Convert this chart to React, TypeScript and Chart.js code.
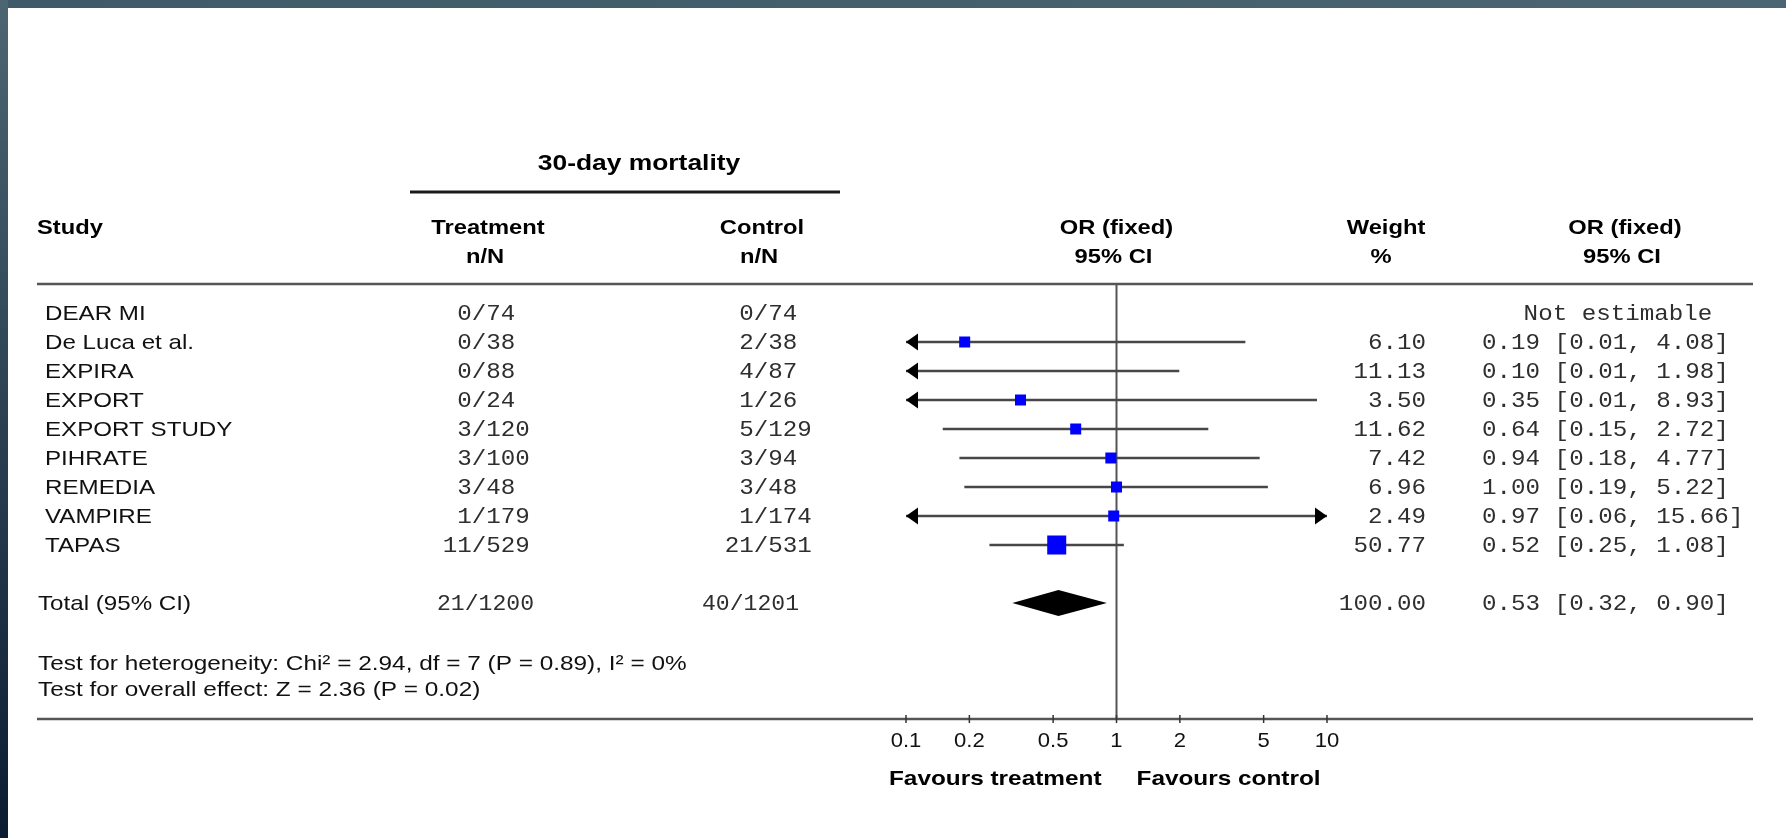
import React, { useEffect, useRef } from "react";
import { Chart, registerables } from "chart.js";

Chart.register(...registerables);

// ---------------- data ----------------
const STUDIES = ["DEAR MI", "De Luca et al.", "EXPIRA", "EXPORT", "EXPORT STUDY", "PIHRATE", "REMEDIA", "VAMPIRE", "TAPAS"];
const TREATMENT = ["0/74", "0/38", "0/88", "0/24", "3/120", "3/100", "3/48", "1/179", "11/529"];
const CONTROL = ["0/74", "2/38", "4/87", "1/26", "5/129", "3/94", "3/48", "1/174", "21/531"];
const WEIGHT: (number | null)[] = [null, 6.10, 11.13, 3.50, 11.62, 7.42, 6.96, 2.49, 50.77];
const OR: (number | null)[] = [null, 0.19, 0.10, 0.35, 0.64, 0.94, 1.00, 0.97, 0.52];
const LOW: (number | null)[] = [null, 0.01, 0.01, 0.01, 0.15, 0.18, 0.19, 0.06, 0.25];
const HIGH: (number | null)[] = [null, 4.08, 1.98, 8.93, 2.72, 4.77, 5.22, 15.66, 1.08];

const TOTAL_LABEL = "Total (95% CI)";
const TOTAL_TREATMENT = "21/1200";
const TOTAL_CONTROL = "40/1201";
const TOTAL_WEIGHT = 100.0;
const TOTAL_OR = 0.53;
const TOTAL_LOW = 0.32;
const TOTAL_HIGH = 0.90;

const X_TICKS = [0.1, 0.2, 0.5, 1, 2, 5, 10];
const NOT_ESTIMABLE = "Not estimable";
const HETEROGENEITY = "Test for heterogeneity: Chi\u00B2 = 2.94, df = 7 (P = 0.89), I\u00B2 = 0%";
const OVERALL = "Test for overall effect: Z = 2.36 (P = 0.02)";
const GROUP_TITLE = "30-day mortality";
const FAVOURS_LEFT = "Favours treatment";
const FAVOURS_RIGHT = "Favours control";

// ---------------- layout ----------------
const W = 1786;
const H = 838;
const X_MIN = 0.1;
const X_MAX = 10;
const TOTAL_ROW = 10;
const HET_ROW = 12.1;
const OVR_ROW = 13.0;
const SANS = '"Liberation Sans", Arial, sans-serif';
const MONO = '"Liberation Mono", "Courier New", monospace';
const MONO_FONT = `22px ${MONO}`;
const MONO_SX = 1.1;
const BOLD = `bold 21px ${SANS}`;
const BOLD_SX = 1.13;
const REG = `21px ${SANS}`;
const REG_SX = 1.15;
const MONO_COLOR = "#2e2e2e";
const ROW_DY = 1.5;

function fmt(v: number) {
  return v.toFixed(2);
}

function txt(ctx: CanvasRenderingContext2D, s: string, x: number, y: number, font: string, align: CanvasTextAlign, sx: number, color = "#111") {
  ctx.save();
  ctx.font = font;
  ctx.fillStyle = color;
  ctx.textAlign = align;
  ctx.textBaseline = "middle";
  ctx.translate(x, y);
  ctx.scale(sx, 1);
  ctx.fillText(s, 0, 0);
  ctx.restore();
}

function slashText(ctx: CanvasRenderingContext2D, s: string, slashX: number, y: number) {
  ctx.save();
  ctx.font = MONO_FONT;
  const cw = ctx.measureText("0").width * MONO_SX;
  ctx.restore();
  const left = slashX - (s.indexOf("/") + 0.5) * cw;
  txt(ctx, s, left, y, MONO_FONT, "left", MONO_SX, MONO_COLOR);
}

function hline(ctx: CanvasRenderingContext2D, x1: number, x2: number, y: number, w: number, color: string) {
  ctx.save();
  ctx.strokeStyle = color;
  ctx.lineWidth = w;
  ctx.beginPath();
  ctx.moveTo(x1, y);
  ctx.lineTo(x2, y);
  ctx.stroke();
  ctx.restore();
}

const forestPlugin = {
  id: "forest",
  beforeDatasetsDraw(chart: any) {
    const { ctx, chartArea } = chart;
    const xs = chart.scales.x;
    const x1 = xs.getPixelForValue(1);
    ctx.save();
    ctx.strokeStyle = "#555";
    ctx.lineWidth = 2;
    ctx.beginPath();
    ctx.moveTo(x1, chartArea.top);
    ctx.lineTo(x1, chartArea.bottom);
    ctx.stroke();
    ctx.restore();
  },
  afterDatasetsDraw(chart: any) {
    const { ctx } = chart;
    const xs = chart.scales.x;
    const ys = chart.scales.y;
    ctx.save();
    ctx.fillStyle = "#000";
    STUDIES.forEach((_, i) => {
      const lo = LOW[i];
      const hi = HIGH[i];
      if (lo == null || hi == null) return;
      const y = ys.getPixelForValue(i);
      if (lo < X_MIN) {
        const tip = xs.getPixelForValue(X_MIN);
        ctx.beginPath();
        ctx.moveTo(tip, y);
        ctx.lineTo(tip + 12, y - 8.5);
        ctx.lineTo(tip + 12, y + 8.5);
        ctx.closePath();
        ctx.fill();
      }
      if (hi > X_MAX) {
        const tip = xs.getPixelForValue(X_MAX);
        ctx.beginPath();
        ctx.moveTo(tip, y);
        ctx.lineTo(tip - 12, y - 8.5);
        ctx.lineTo(tip - 12, y + 8.5);
        ctx.closePath();
        ctx.fill();
      }
    });
    // pooled-estimate diamond
    const yc = ys.getPixelForValue(TOTAL_ROW);
    const xl = xs.getPixelForValue(TOTAL_LOW);
    const xc = xs.getPixelForValue(TOTAL_OR);
    const xr = xs.getPixelForValue(TOTAL_HIGH);
    ctx.beginPath();
    ctx.moveTo(xl, yc);
    ctx.lineTo(xc, yc - 13);
    ctx.lineTo(xr, yc);
    ctx.lineTo(xc, yc + 13);
    ctx.closePath();
    ctx.fill();
    ctx.restore();
  },
  afterDraw(chart: any) {
    const { ctx, chartArea } = chart;
    const xs = chart.scales.x;
    const ys = chart.scales.y;
    const x1 = xs.getPixelForValue(1);

    // group title & underline
    txt(ctx, GROUP_TITLE, 639, 164, `bold 22px ${SANS}`, "center", 1.2, "#000");
    hline(ctx, 410, 840, 192, 3, "#1a1a1a");

    // column headers
    const hy1 = 228;
    const hy2 = 257;
    txt(ctx, "Study", 37, hy1, BOLD, "left", BOLD_SX, "#000");
    txt(ctx, "Treatment", 488, hy1, BOLD, "center", BOLD_SX, "#000");
    txt(ctx, "n/N", 485, hy2, BOLD, "center", BOLD_SX, "#000");
    txt(ctx, "Control", 762, hy1, BOLD, "center", BOLD_SX, "#000");
    txt(ctx, "n/N", 759, hy2, BOLD, "center", BOLD_SX, "#000");
    txt(ctx, "OR (fixed)", x1, hy1, BOLD, "center", BOLD_SX, "#000");
    txt(ctx, "95% CI", x1 - 3, hy2, BOLD, "center", BOLD_SX, "#000");
    txt(ctx, "Weight", 1386, hy1, BOLD, "center", BOLD_SX, "#000");
    txt(ctx, "%", 1381, hy2, BOLD, "center", BOLD_SX, "#000");
    txt(ctx, "OR (fixed)", 1625, hy1, BOLD, "center", BOLD_SX, "#000");
    txt(ctx, "95% CI", 1622, hy2, BOLD, "center", BOLD_SX, "#000");

    // header & bottom rules
    hline(ctx, 37, 1753, chartArea.top, 2.5, "#555");
    hline(ctx, 37, 1753, chartArea.bottom, 2.5, "#555");

    // study rows
    STUDIES.forEach((s, i) => {
      const y = ys.getPixelForValue(i) + ROW_DY;
      txt(ctx, s, 45, y, REG, "left", REG_SX, "#111");
      slashText(ctx, TREATMENT[i], 479, y);
      slashText(ctx, CONTROL[i], 761, y);
      const w = WEIGHT[i];
      if (w != null) txt(ctx, fmt(w), 1426, y, MONO_FONT, "right", MONO_SX, MONO_COLOR);
      const o = OR[i];
      const lo = LOW[i];
      const hi = HIGH[i];
      if (o != null && lo != null && hi != null) {
        txt(ctx, `${fmt(o)} [${fmt(lo)}, ${fmt(hi)}]`, 1482, y, MONO_FONT, "left", MONO_SX, MONO_COLOR);
      } else {
        txt(ctx, NOT_ESTIMABLE, 1618, y, MONO_FONT, "center", MONO_SX, MONO_COLOR);
      }
    });

    // total row
    const ty = ys.getPixelForValue(TOTAL_ROW) + ROW_DY;
    txt(ctx, TOTAL_LABEL, 38, ty, REG, "left", REG_SX, "#111");
    txt(ctx, TOTAL_TREATMENT, 437, ty, MONO_FONT, "left", 1.05, MONO_COLOR);
    txt(ctx, TOTAL_CONTROL, 702, ty, MONO_FONT, "left", 1.05, MONO_COLOR);
    txt(ctx, fmt(TOTAL_WEIGHT), 1426, ty, MONO_FONT, "right", MONO_SX, MONO_COLOR);
    txt(ctx, `${fmt(TOTAL_OR)} [${fmt(TOTAL_LOW)}, ${fmt(TOTAL_HIGH)}]`, 1482, ty, MONO_FONT, "left", MONO_SX, MONO_COLOR);

    // tests
    txt(ctx, HETEROGENEITY, 38, ys.getPixelForValue(HET_ROW), REG, "left", 1.16, "#111");
    txt(ctx, OVERALL, 38, ys.getPixelForValue(OVR_ROW), REG, "left", 1.16, "#111");

    // axis ticks and labels
    const ay = chartArea.bottom;
    ctx.save();
    ctx.strokeStyle = "#333";
    ctx.lineWidth = 1.5;
    X_TICKS.forEach((t) => {
      const px = xs.getPixelForValue(t);
      ctx.beginPath();
      ctx.moveTo(px, ay - 4);
      ctx.lineTo(px, ay + 4);
      ctx.stroke();
    });
    ctx.restore();
    X_TICKS.forEach((t) => {
      const px = xs.getPixelForValue(t);
      txt(ctx, String(t), px, ay + 22, `21px ${SANS}`, "center", 1.05, "#111");
    });

    // favours labels
    txt(ctx, FAVOURS_LEFT, x1 - 15, ay + 60, BOLD, "right", 1.16, "#000");
    txt(ctx, FAVOURS_RIGHT, x1 + 20, ay + 60, BOLD, "left", 1.16, "#000");
  },
};

function squareSide(w: number) {
  return Math.max(11, 19 * Math.sqrt(w / 50.77));
}

export default function App() {
  const ref = useRef<HTMLCanvasElement>(null);

  useEffect(() => {
    const canvas = ref.current;
    if (!canvas) return;
    const ctx = canvas.getContext("2d");
    if (!ctx) return;

    const idx = STUDIES.map((_, i) => i);
    const ciRows = idx.filter((i) => LOW[i] != null && HIGH[i] != null);
    const sqRows = idx.filter((i) => OR[i] != null);

    const chart = new Chart(ctx, {
      type: "bar",
      data: {
        datasets: [
          {
            type: "bar",
            label: "95% CI",
            indexAxis: "y",
            data: ciRows.map((i) => ({ x: [LOW[i] as number, HIGH[i] as number], y: i })) as any,
            xAxisID: "x",
            yAxisID: "y",
            barThickness: 2,
            backgroundColor: "#474747",
            borderWidth: 0,
            order: 2,
          } as any,
          {
            type: "scatter",
            label: "OR",
            data: sqRows.map((i) => ({ x: OR[i] as number, y: i })),
            xAxisID: "x",
            yAxisID: "y",
            pointStyle: "rect",
            pointRadius: sqRows.map((i) =>
              (OR[i] as number) <= X_MIN ? 0 : squareSide(WEIGHT[i] as number) / Math.SQRT2
            ),
            backgroundColor: "#0000ff",
            borderWidth: 0,
            order: 1,
          } as any,
        ],
      },
      options: {
        responsive: false,
        animation: false,
        events: [],
        layout: { padding: { left: 906, right: W - 1327, top: 284, bottom: H - 719 } },
        scales: {
          x: { type: "logarithmic", min: X_MIN, max: X_MAX, display: false, offset: false },
          y: { type: "linear", min: -1, max: 14, reverse: true, display: false, offset: false },
        },
        plugins: { legend: { display: false }, tooltip: { enabled: false } },
      },
      plugins: [forestPlugin],
    });
    return () => chart.destroy();
  }, []);

  return (
    <div style={{ position: "fixed", left: 0, top: 0, width: W, height: H, background: "#fff", overflow: "hidden" }}>
      <canvas ref={ref} width={W} height={H} style={{ position: "absolute", left: 0, top: 0, width: W, height: H }} />
      <div style={{ position: "absolute", left: 0, top: 0, width: W, height: 8, background: "linear-gradient(90deg,#3f5a68,#4b6672)" }} />
      <div style={{ position: "absolute", left: 0, top: 0, width: 8, height: H, background: "linear-gradient(180deg,#4b6672,#0b1c32)" }} />
    </div>
  );
}
